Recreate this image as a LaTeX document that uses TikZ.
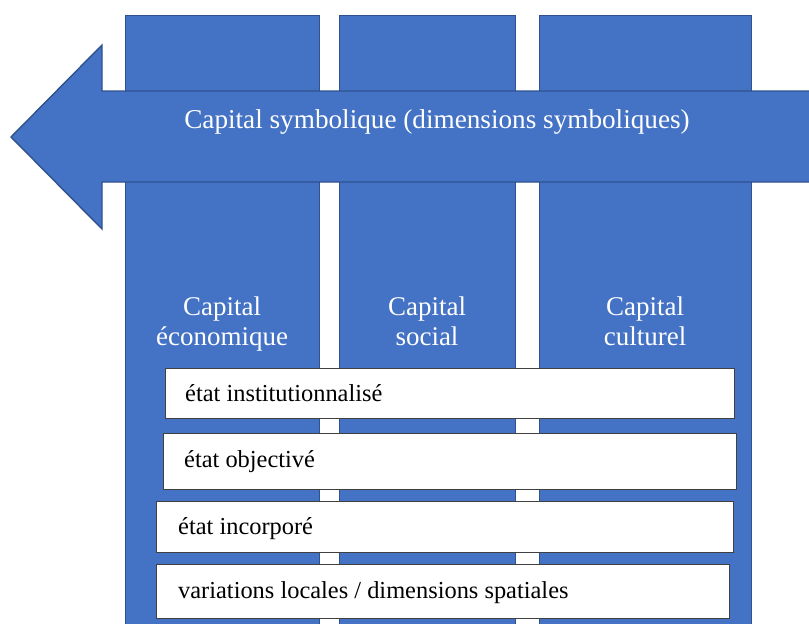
\documentclass[tikz,border=0pt]{standalone}
\usepackage{fontspec}
\setmainfont{Liberation Serif}
\definecolor{capblue}{HTML}{4472C4}
\definecolor{capedge}{HTML}{2F528F}
\definecolor{boxedge}{HTML}{404040}
\begin{document}
\begin{tikzpicture}[x=1pt,y=-1pt,
  colbox/.style={draw=capedge, line width=1.4pt, fill=capblue, rectangle, anchor=north west, minimum height=640pt, inner sep=0pt},
  lbl/.style={text=white, align=center, inner sep=0pt, anchor=north, font=\fontsize{27}{30}\selectfont},
  statebox/.style={draw=boxedge, line width=0.8pt, fill=white, rectangle, anchor=north west, inner sep=0pt},
  statetext/.style={inner sep=0pt, anchor=base west, font=\fontsize{24.4}{28}\selectfont}]
\useasboundingbox (0,0) rectangle (809,624);
\clip (0,0) rectangle (809,624);
% columns
\node[colbox, minimum width=194pt] (c1) at (125,14.5) {};
\node[colbox, minimum width=176pt] (c2) at (339,14.5) {};
\node[colbox, minimum width=212pt] (c3) at (539,14.5) {};
% arrow
\draw[draw=capedge, line width=1.4pt, fill=capblue]
  (11,137) -- (102,45) -- (102,91) -- (820,91) -- (820,182) -- (102,182) -- (102,229) -- cycle;
\node[text=white, inner sep=0pt, anchor=base, font=\fontsize{27.2}{30}\selectfont] (sym) at (437,128) {Capital symbolique (dimensions symboliques)};
% column labels
\node[lbl] (l1) at (222,296.5) {Capital\\économique};
\node[lbl] (l2) at (427,296.5) {Capital\\social};
\node[lbl] (l3) at (645,296.5) {Capital\\culturel};
% state boxes
\node[statebox, minimum width=569pt, minimum height=50pt] (b1) at (165,368) {};
\node[statebox, minimum width=573pt, minimum height=56pt] (b2) at (163,433) {};
\node[statebox, minimum width=577pt, minimum height=51pt] (b3) at (156,501) {};
\node[statebox, minimum width=573pt, minimum height=54pt] (b4) at (156,564) {};
\node[statetext] (t1) at (185,401.5) {état institutionnalisé};
\node[statetext] (t2) at (184,467) {état objectivé};
\node[statetext] (t3) at (178,534) {état incorporé};
\node[statetext] (t4) at (178,598) {variations locales / dimensions spatiales};
\end{tikzpicture}
\end{document}
